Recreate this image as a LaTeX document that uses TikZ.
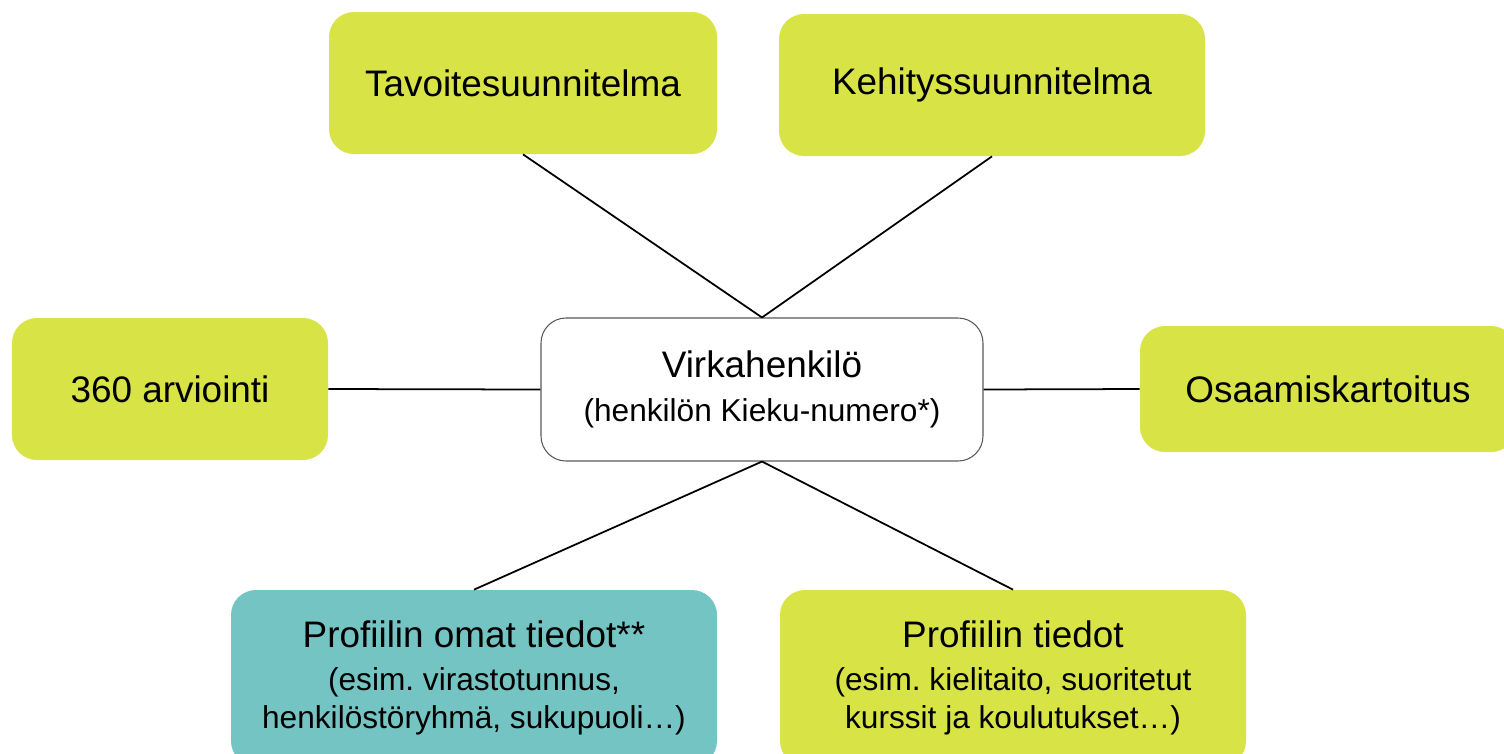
\documentclass[tikz,border=0pt]{standalone}
\usepackage{fontspec}
\setmainfont{Liberation Sans}
\frenchspacing
\definecolor{limebox}{HTML}{D8E346}
\definecolor{tealbox}{HTML}{74C4C3}
\tikzset{
	box/.style={rounded corners=0.5cm, inner sep=0pt, align=center, text=black,
		font=\fontsize{18}{21.6}\selectfont},
	limefill/.style={box, fill=limebox},
	tealfill/.style={box, fill=tealbox},
	link/.style={draw=black, line width=1pt}
}
\begin{document}
\begin{tikzpicture}
		\newcommand{\myfonttitle}[1]{%
			\fontsize{21}{25}\selectfont{#1}%
		}\newcommand{\myfontsub}[1]{%
			\fontsize{18}{21.6}\selectfont{#1}%
		}%Page frame
		\useasboundingbox (0,0) rectangle (30.08,-15.06);
		\clip (0,0) rectangle (30.08,-15.06);
		%Upper row
		\node [limefill, minimum width=7.76cm, minimum height=2.84cm] (tavoite) at (10.46,-1.66) {\myfonttitle{Tavoitesuunnitelma}};
		\node [limefill, minimum width=8.52cm, minimum height=2.84cm] (kehitys) at (19.84,-1.70) {\myfonttitle{Kehityssuunnitelma}};
		%Middle row
		\node [limefill, minimum width=6.32cm, minimum height=2.84cm] (arvio) at (3.40,-7.78) {\myfonttitle{360 arviointi}};
		\node [box, draw=black!65, line width=0.6pt, fill=white, minimum width=8.84cm, minimum height=2.86cm] (virka) at (15.24,-7.79)
			{\myfonttitle{Virkahenkilö}\\[3pt]\myfontsub{(henkilön Kieku-numero*)}};
		\node [limefill, minimum width=7.52cm, minimum height=2.52cm] (osaamis) at (26.56,-7.78) {\myfonttitle{Osaamiskartoitus}};
		%Lower row
		\node [tealfill, minimum width=9.72cm, minimum height=3.52cm] (omat) at (9.48,-13.56)
			{\myfonttitle{Profiilin omat tiedot**}\\[3pt]\myfontsub{(esim. virastotunnus,}\\\myfontsub{henkilöstöryhmä, sukupuoli…)}};
		\node [limefill, minimum width=9.32cm, minimum height=3.52cm] (tiedot) at (20.26,-13.56)
			{\myfonttitle{Profiilin tiedot}\\[3pt]\myfontsub{(esim. kielitaito, suoritetut}\\\myfontsub{kurssit ja koulutukset…)}};
		%Connectors
		\draw [link] (tavoite.south) -- (virka.north);
		\draw [link] (kehitys.south) -- (virka.north);
		\draw [link] (arvio.east) -- (virka.west);
		\draw [link] (virka.east) -- (osaamis.west);
		\draw [link] (virka.south) -- (omat.north);
		\draw [link] (virka.south) -- (tiedot.north);
\end{tikzpicture}
\end{document}
